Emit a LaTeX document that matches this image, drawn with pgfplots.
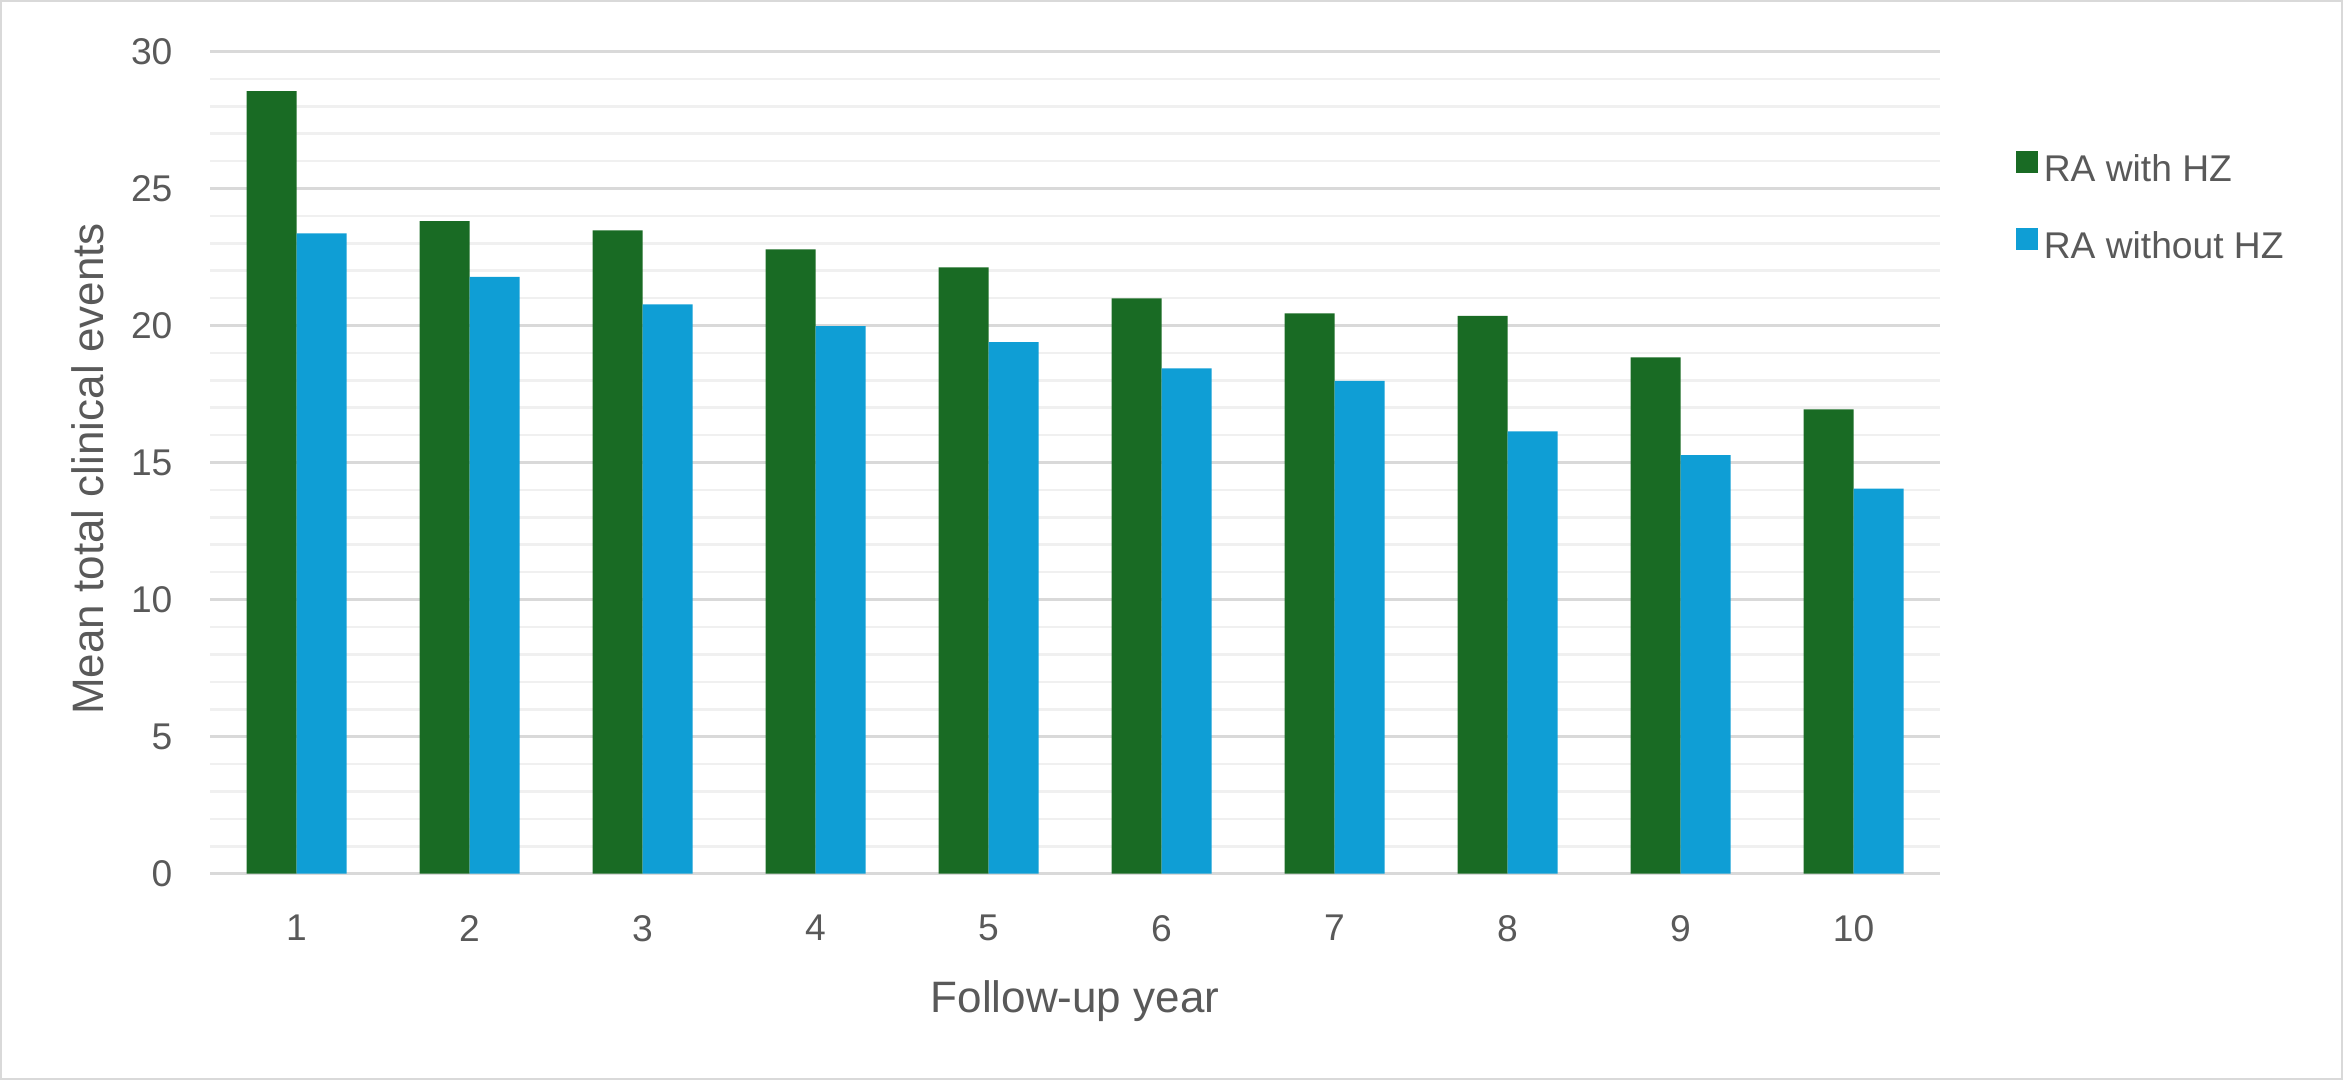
\documentclass[border=0pt]{standalone}
\usepackage{fontspec}
\setmainfont{Liberation Sans}
\usepackage{pgfplots}
\pgfplotsset{compat=1.18}
\definecolor{hzgreen}{HTML}{196B24}
\definecolor{hzblue}{HTML}{0F9ED5}
\definecolor{txtgray}{HTML}{595959}
\definecolor{majgray}{HTML}{D9D9D9}
\definecolor{mingray}{HTML}{F0F0F0}
\definecolor{framegray}{HTML}{D9D9D9}
\begin{document}
\begin{tikzpicture}
\useasboundingbox (0,0) rectangle (585.75pt,270pt);
\draw[framegray, line width=0.6pt] (0.3pt,0.3pt) rectangle (585.45pt,269.7pt);
\begin{axis}[
  name=ax,
  at={(52.5pt,51.575pt)}, anchor=south west,
  scale only axis,
  width=432.5pt, height=205.575pt,
  xmin=0.5, xmax=10.5,
  ymin=0, ymax=30,
  ybar=0pt, bar width=12.5pt,
  xtick={1,...,10},
  ytick={0,5,...,30},
  minor y tick num=4,
  ymajorgrids, yminorgrids,
  major grid style={draw=majgray, line width=0.65pt},
  minor grid style={draw=mingray, line width=0.65pt},
  axis line style={draw=none},
  tick style={draw=none},
  major tick length=0pt, minor tick length=0pt,
  /pgf/number format/assume math mode=true,
  tick label style={font=\fontsize{9.3}{11}\selectfont, text=txtgray},
  yticklabel style={anchor=east, inner sep=0pt, xshift=-9.2pt},
  xticklabel style={anchor=north, inner sep=0pt, yshift=-10.2pt},
  legend image code/.code={\fill[#1] (0.3pt,-0.4pt) rectangle (5.9pt,5.2pt);},
  legend cell align=left,
  legend style={at={(axis description cs:1.04335,1)}, anchor=north west,
    yshift=-24.3pt, draw=none, fill=none, inner sep=0pt, row sep=8.2pt,
    font=\fontsize{9.3}{11}\selectfont, text=txtgray,
    nodes={inner sep=1.4pt}},
]
\addplot[fill=hzgreen, draw=none] coordinates {(1,28.55) (2,23.81) (3,23.47) (4,22.78) (5,22.12) (6,20.99) (7,20.44) (8,20.35) (9,18.84) (10,16.94)};
\addplot[fill=hzblue, draw=none] coordinates {(1,23.36) (2,21.77) (3,20.77) (4,19.98) (5,19.39) (6,18.44) (7,17.98) (8,16.14) (9,15.27) (10,14.05)};
\legend{RA with HZ, RA without HZ}
\end{axis}
\node[rotate=90, text=txtgray, font=\fontsize{11}{13}\selectfont] at ([xshift=-30.5pt,yshift=-1.6pt]ax.west) {Mean total clinical events};
\node[anchor=north, inner sep=0pt, text=txtgray, font=\fontsize{11}{13}\selectfont] at ([yshift=-26.5pt]ax.south) {Follow-up year};
\end{tikzpicture}
\end{document}
